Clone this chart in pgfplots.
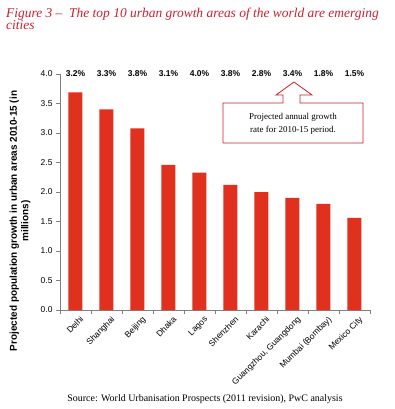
\documentclass[border=0pt]{standalone}
\usepackage{fontspec}
\setmainfont{Liberation Serif}
\setsansfont{Liberation Sans}
\usepackage{pgfplots}
\pgfplotsset{compat=1.18}
\definecolor{barred}{HTML}{E0301E}
\definecolor{titlered}{HTML}{C8202F}
\definecolor{axgray}{HTML}{808080}
\begin{document}
\begin{tikzpicture}
\useasboundingbox (-60bp,-99bp) rectangle (335bp,310bp);
\begin{axis}[
  at={(0,0)}, anchor=south west,
  scale only axis, width=310bp, height=236bp,
  ymin=0, ymax=4, xmin=-0.5, xmax=9.5,
  axis lines*=left,
  axis line style={axgray},
  ytick={0,0.5,...,4.0},
  yticklabel style={/pgf/number format/fixed,/pgf/number format/fixed zerofill,/pgf/number format/precision=1,font=\sffamily\fontsize{8.5}{9}\selectfont},
  /pgf/number format/assume math mode=true,
  xtick=data,
  xticklabels={Delhi,Shanghai,Beijing,Dhaka,Lagos,Shenzhen,Karachi,{Guangzhou, Guangdong},Mumbai (Bombay),Mexico City},
  xticklabel style={rotate=45, anchor=north east, font=\sffamily\fontsize{8.5}{9}\selectfont, inner sep=1pt, yshift=-3pt, xshift=3pt},
  major x tick style={draw=none},
  minor xtick={-0.5,0.5,...,9.5},
  minor tick length=4bp,
  major tick length=4bp,
  tick align=outside,
  tick style={axgray},
  clip=false,
]
\addplot[ybar, bar width=14bp, fill=barred, draw=none] coordinates {
(0,3.69) (1,3.40) (2,3.08) (3,2.46) (4,2.33) (5,2.12) (6,2.00) (7,1.90) (8,1.80) (9,1.56)};
\addplot[only marks, mark=none, point meta=explicit symbolic,
  nodes near coords, nodes near coords align={center},
  every node near coord/.style={font=\sffamily\bfseries\fontsize{8.5}{9}\selectfont, anchor=center}]
  coordinates {
(0,4.0) [3.2\%] (1,4.0) [3.3\%] (2,4.0) [3.8\%] (3,4.0) [3.1\%] (4,4.0) [4.0\%]
(5,4.0) [3.8\%] (6,4.0) [2.8\%] (7,4.0) [3.4\%] (8,4.0) [1.8\%] (9,4.0) [1.5\%]};
\end{axis}
\node[rotate=90, align=center, font=\sffamily\bfseries\fontsize{10}{11.5}\selectfont] at (-40bp,89bp)
  {Projected population growth in urban areas 2010-15 (in\\millions)};
\node[anchor=north west, align=left, text=titlered, font=\itshape\fontsize{13.5}{12}\selectfont, inner sep=0pt] at (-54bp,302bp)
  {Figure 3 --\ \ The top 10 urban growth areas of the world are emerging\\cities};
\draw[titlered, fill=white, line width=0.8bp] (163bp,207bp) -- (223bp,207bp) -- (223bp,215bp) -- (216bp,215bp) -- (234bp,228bp) -- (252bp,215bp) -- (240bp,215bp) -- (240bp,207bp) -- (303bp,207bp) -- (303bp,167bp) -- (163bp,167bp) -- cycle;
\node[align=center, font=\fontsize{9}{13}\selectfont] at (233bp,186bp) {Projected annual growth\\rate for 2010-15 period.};
\node[font=\fontsize{10}{11}\selectfont] at (145bp,-89bp) {Source: World Urbanisation Prospects (2011 revision), PwC analysis};
\end{tikzpicture}
\end{document}
